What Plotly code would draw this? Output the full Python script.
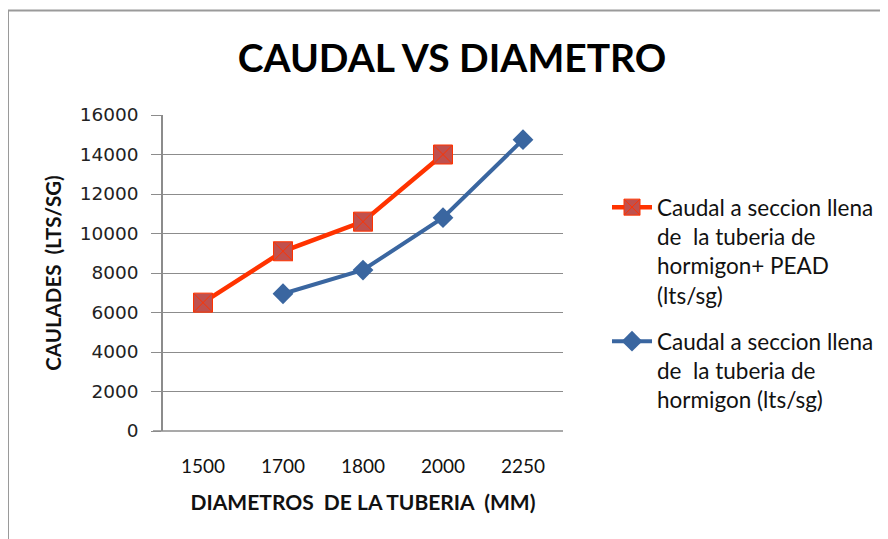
import plotly.graph_objects as go

diametros = ["1500", "1700", "1800", "2000", "2250"]
serie_pead_x = ["1500", "1700", "1800", "2000"]
serie_pead_y = [6500, 9100, 10600, 14000]
serie_horm_x = ["1700", "1800", "2000", "2250"]
serie_horm_y = [6950, 8150, 10800, 14750]
y_ticks = [0, 2000, 4000, 6000, 8000, 10000, 12000, 14000, 16000]
y_tick_text = [str(v) for v in y_ticks]

name_pead = "Caudal a seccion llena<br>de  la tuberia de<br>hormigon+ PEAD<br>(lts/sg)"
name_horm = "Caudal a seccion llena<br>de  la tuberia de<br>hormigon (lts/sg)"

fig = go.Figure()
fig.add_trace(go.Scatter(
    x=serie_pead_x, y=serie_pead_y, name=name_pead, mode="lines+markers",
    legendgroup="pead",
    line=dict(color="#FF3300", width=4.5),
    marker=dict(symbol="square-x", size=19, color="#C0504D",
                line=dict(color="#FF3300", width=1)),
))
fig.add_trace(go.Scatter(
    x=serie_horm_x, y=serie_horm_y, name=name_horm, mode="lines+markers",
    legendgroup="horm",
    line=dict(color="#3A66A0", width=4),
    marker=dict(symbol="diamond", size=16, color="#3A66A0"),
))

OFF = 8  # page body margin
W, H = 888, 539
# target plot area in page pixels: x 163..563, y 115..431
L, T = 163 - OFF, 115 - OFF
pw, ph = 400, 316
R, B = W - L - pw, H - T - ph


def px_x(x):
    return (x - OFF - L) / pw


def px_y(y):
    return (T + ph - (y - OFF)) / ph


fig.update_layout(
    width=W, height=H,
    margin=dict(l=L, r=R, t=T, b=B, pad=0),
    paper_bgcolor="white", plot_bgcolor="white",
    font=dict(family="Lato, Liberation Sans, sans-serif", color="#111"),
    title=dict(text="<b>CAUDAL VS DIAMETRO</b>", x=(452 - OFF) / W, xref="container",
               xanchor="center", y=1 - (58 - OFF) / H, yref="container", yanchor="middle",
               font=dict(size=39, color="#000", family="Lato, sans-serif")),
    xaxis=dict(type="category", categoryorder="array", categoryarray=diametros,
               range=[-0.5, 4.5], showgrid=False, showline=False, ticks="",
               zeroline=False, ticklabelstandoff=22,
               tickfont=dict(size=19, color="#111", family="Lato, sans-serif"),
               title=dict(text="<b>DIAMETROS  DE LA TUBERIA  (MM)</b>", standoff=19,
                          font=dict(size=21, color="#111"))),
    yaxis=dict(range=[0, 16000], tickvals=y_ticks, ticktext=y_tick_text, showgrid=True,
               gridcolor="#8C8C8C", gridwidth=1.3, zeroline=False,
               showline=True, linecolor="#8C8C8C", linewidth=1.5,
               ticks="outside", ticklen=10, tickcolor="#8C8C8C", tickwidth=1.3,
               ticklabelstandoff=9,
               tickfont=dict(size=18.5, color="#222", family="DejaVu Sans, sans-serif"),
               title=dict(text="<b>CAULADES  (LTS/SG)</b>", standoff=13,
                          font=dict(size=20.5, color="#111"))),
    showlegend=True,
    legend=dict(x=px_x(607), y=px_y(186), xanchor="left", yanchor="top",
                valign="top", tracegroupgap=14, itemwidth=40,
                font=dict(size=22.5, color="#111", family="Lato, sans-serif"),
                bgcolor="rgba(0,0,0,0)"),
)

# outer chart frame (left and top edges visible)
fig.add_shape(type="line", xref="paper", yref="paper",
              x0=px_x(8), x1=px_x(8), y0=px_y(560), y1=px_y(10.5),
              line=dict(color="#9A9A9A", width=2))
fig.add_shape(type="line", xref="paper", yref="paper",
              x0=px_x(8), x1=px_x(900), y0=px_y(10.5), y1=px_y(10.5),
              line=dict(color="#9A9A9A", width=2))
# bottom baseline
fig.add_shape(type="line", xref="paper", yref="paper",
              x0=px_x(153), x1=1.0, y0=0, y1=0,
              line=dict(color="#8C8C8C", width=1.3))

fig.write_html("out.html")
